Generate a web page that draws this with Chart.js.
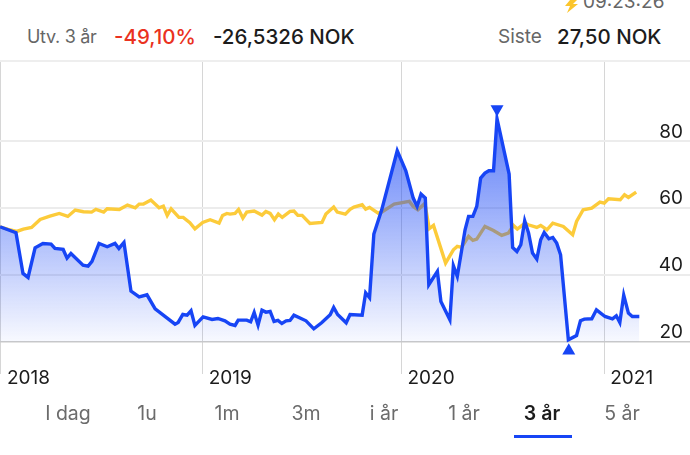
<!DOCTYPE html>
<html lang="no">
<head>
<meta charset="utf-8">
<script src="https://cdn.jsdelivr.net/npm/chart.js@4"></script>
<style>
html,body{margin:0;padding:0;background:#fff;width:690px;height:455px;overflow:hidden;font-family:Inter,"Noto Sans",sans-serif;}
#wrap{position:absolute;left:0;top:0;width:690px;height:405px;}
.t{position:absolute;white-space:nowrap;line-height:24px;height:24px;}
.hd{font-size:20.5px;top:25px;}
.grey{color:#666;}
.dark{color:#1c1c1c;font-weight:500;}
.tab{position:absolute;top:401px;font-size:19.5px;line-height:24px;color:#6b6b6b;transform:translateX(-50%);white-space:nowrap;}
#topline{position:absolute;left:0;top:60px;width:690px;height:2px;background:#eeeeee;}
#under{position:absolute;left:514px;top:435px;width:58px;height:3px;background:#1745f5;}
</style>
</head>
<body>
<div class="t grey" style="left:583px;top:-10px;font-size:19px;">09:23:26</div>
<svg style="position:absolute;left:562px;top:0" width="17" height="13" viewBox="0 0 17 13"><polygon points="8,0 15,0 11,4 16,4 5,13 8,6 3,6" fill="#fbc52c"/></svg>
<div class="t hd grey" style="left:27px;font-size:18px;letter-spacing:-0.3px;">Utv. 3 år</div>
<div class="t hd" style="left:114px;color:#ea3120;font-weight:500;">-49,10%</div>
<div class="t hd dark" style="left:213px;">-26,5326 NOK</div>
<div class="t hd grey" style="left:498px;font-size:19px;">Siste</div>
<div class="t hd dark" style="left:557px;">27,50 NOK</div>
<div id="topline"></div>
<div id="wrap"><canvas id="c" width="690" height="405"></canvas></div>
<div id="tabs"></div>
<div id="under"></div>
<script>
const rangeLabels = ["I dag","1u","1m","3m","i år","1 år","3 år","5 år"];
const rangeCentres = [68,147,227,306,384,464,542,622];
const activeRange = "3 år";

const yTicks = [20,40,60,80];
const yearLabels = ["2018","2019","2020","2021"];
const yearWeeks = [0.25,52,103,155];

const stockWeeks = [0,4.1,5.9,7.2,9,11,13.1,14.1,16.2,17.2,18.2,21.3,22.6,23.6,25.4,27.5,29.5,30.5,31.8,33.6,35.7,37.7,39.8,44.9,45.7,46.9,48,49,50,52.1,54.4,55.9,57.7,59,60.3,61.1,63.3,64.3,65.2,66.2,67.2,68.2,69.3,70.3,71.3,72.3,73.4,74.4,75.4,78.5,80.5,82.5,84.7,85.6,86.6,88.8,89.8,92.9,93.8,94.8,95.9,97.9,101.9,104.1,106,107,108,109.1,110,112.2,113.1,115.4,116.3,117.3,119.3,120.2,121.3,122.3,123.3,124.4,125.4,126.6,127.5,130.6,131.5,132.6,133.6,134.6,135.6,136.6,137.7,138.7,139.6,140.8,141.8,142.8,143.8,145.8,147.9,148.9,149.9,151.8,153,155.2,157.1,158.1,159,160,161.2,162.2,164];
const stockValues = [54.4,52.6,40.4,39.2,48.1,49.4,49.2,47.9,47.6,45,46.4,42.9,42.6,44,49.4,48.4,49.4,47.9,49.7,35.1,33.4,34,29.8,25.2,25.7,28.1,27.9,29.2,24.8,27.4,26.6,26.9,26.2,25.2,24.8,26.4,26.4,25.9,28.7,24.9,29.4,28.8,29,26,26.3,25.4,26.2,26.3,27.9,26.2,23.8,25.6,28,30.2,28.1,25.6,28.1,27.9,34.6,33.1,52.2,59.4,77.2,71.2,63,60.5,64.2,63,37,41,32,26.5,42.7,39.5,53.5,57.5,57.5,60.5,69,70.5,71.2,71.2,86.8,70.2,48.2,47,49,56.2,52.5,46.5,44.7,50.5,52.7,50.8,51.2,49.5,46,20.5,21.8,26.2,26.7,26.8,29.5,27.5,26.8,27.7,25.7,33.9,28.5,27.5,27.5];

const indexWeeks = [0,2.1,4.3,6,8.1,10.3,12.8,15.2,17.4,19.3,21.4,23.5,24.6,26.6,27.5,30.6,32.7,34.7,35.7,36.8,38.7,40.8,41.9,42.9,43.9,45.9,47,48.7,50,52,53.9,56.2,57.1,58.2,59,60.3,61.2,62.3,63.3,65.2,67.2,68.2,69.3,70.4,71.4,72.4,74.4,75.4,76.4,77.5,79.5,82.6,83.6,85.6,86.5,88.6,89.8,90.8,92.9,93.8,94.8,97,97.9,101.1,105,106,107.2,109,110.1,111.2,114.3,116.3,117.3,118.4,120.2,121.3,122.3,124.4,126.6,128.7,130.4,131.7,132.7,134.7,135.5,137.7,138.7,140.3,141.8,144.5,146.9,147.9,149.6,151.8,153.9,155,156.1,159.1,160.2,161.2,163.2];
const indexValues = [54.4,53.6,53,53.7,54.2,56.6,57.6,58.4,57.5,59.4,58.9,58.8,59.6,58.8,59.8,59.6,60.9,60.1,61.2,61.2,62.4,60.1,60.6,57.8,59.8,57.2,57.2,55.6,53.8,55.7,56.5,55.5,57.8,58.4,58.2,58.4,59.6,57,58.8,59.1,57.9,59,58.4,56.5,58.2,57.2,59,59.1,57.8,57.8,55.4,55.7,58.2,60.3,58.8,58.2,59.6,60.3,61,59.7,60.2,58.5,58.8,61.2,62,60.5,59.5,61.4,53.8,54.8,43.5,47.5,48.5,48.2,51.5,50.3,50.7,54.5,53.3,51.8,52.5,54.8,53.7,55.5,55,54.2,54.8,53.5,55.5,54.5,52,56,59.5,60,61.8,61.5,62.8,62.5,64,63.2,64.8];

const highMarkerWeek = [127.5];
const highMarkerValue = [89.7];
const lowMarkerWeek = [145.9];
const lowMarkerValue = [17.2];

const zip = (xs, ys) => xs.map((x, i) => ({x, y: ys[i]}));

const tabs = document.getElementById('tabs');
rangeLabels.forEach((l, i) => {
  const d = document.createElement('div');
  d.className = 'tab';
  d.textContent = l;
  d.style.left = rangeCentres[i] + 'px';
  if (l === activeRange) { d.style.color = '#1c1c1c'; d.style.fontWeight = '600'; }
  tabs.appendChild(d);
});

const BLUE = '#1745f5';
function areaFill(ctx) {
  const g = ctx.chart.ctx.createLinearGradient(0, 87, 0, 342);
  g.addColorStop(0, 'rgba(23,69,245,0.8)');
  g.addColorStop(1, 'rgba(23,69,245,0.03)');
  return g;
}

new Chart(document.getElementById('c'), {
  type: 'line',
  data: {
    datasets: [
      {label: 'Aksje', data: zip(stockWeeks, stockValues), borderColor: BLUE, borderWidth: 3.4,
       backgroundColor: areaFill, fill: {value: 20}, pointRadius: 0, tension: 0, order: 1},
      {label: 'Indeks', data: zip(indexWeeks, indexValues), borderColor: '#fccb3a', borderWidth: 3.4,
       fill: false, pointRadius: 0, tension: 0, order: 2},
      {label: 'Høyeste', data: zip(highMarkerWeek, highMarkerValue), showLine: false, pointStyle: 'triangle',
       pointRotation: 180, pointRadius: 7.5, pointBackgroundColor: BLUE, pointBorderWidth: 0, order: 0},
      {label: 'Laveste', data: zip(lowMarkerWeek, lowMarkerValue), showLine: false, pointStyle: 'triangle',
       pointRadius: 7.5, pointBackgroundColor: BLUE, pointBorderWidth: 0, order: 0}
    ]
  },
  options: {
    responsive: false,
    animation: false,
    events: [],
    layout: {autoPadding: false, padding: {top: 62, left: 0, right: 0, bottom: 0}},
    plugins: {legend: {display: false}, tooltip: {enabled: false}},
    scales: {
      x: {
        type: 'linear', min: 0, max: 177, position: 'bottom',
        afterBuildTicks: s => { s.ticks = yearWeeks.map(v => ({value: v})); },
        afterFit: s => { s.height = 36; },
        border: {display: false},
        grid: {color: 'rgba(0,0,0,0.16)', lineWidth: 1, drawTicks: true, tickLength: 5},
        ticks: {
          autoSkip: false, maxRotation: 0, align: 'start', padding: -6.7, labelOffset: 6,
          color: '#1c1c1c', font: {family: 'Inter', size: 19},
          callback: v => yearLabels[yearWeeks.indexOf(v)]
        }
      },
      y: {
        type: 'linear', min: 11.75, max: 103.8, position: 'right',
        afterBuildTicks: s => { s.ticks = yTicks.map(v => ({value: v})); },
        afterFit: s => { s.width = 0; },
        border: {display: false},
        grid: {
          drawTicks: false,
          color: c => c.tick && c.tick.value === 20 ? '#c9c9c9' : '#ececec',
          lineWidth: c => c.tick && c.tick.value === 20 ? 1.5 : 2
        },
        ticks: {
          mirror: true, padding: -7, labelOffset: -9.5, color: '#1c1c1c',
          font: {family: 'Inter', size: 19}
        }
      }
    }
  }
});
</script>
</body>
</html>
